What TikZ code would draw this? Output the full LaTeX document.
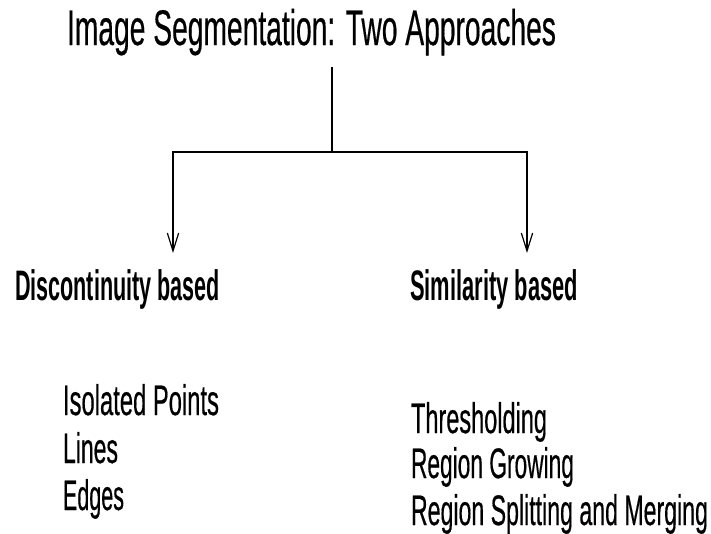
\documentclass[tikz,border=0pt]{standalone}
\usepackage{fontspec}
\setmainfont{Liberation Sans}[FakeBold=0.6]
\newfontfamily\hdfont{Liberation Sans Bold}
\usepackage{graphicx}
\usetikzlibrary{arrows.meta}
\newcommand{\fitw}[3]{{\fontsize{#2}{#2}\selectfont\resizebox{#1}{\height}{#3}}}
\tikzset{
  txt/.style={anchor=base west, inner sep=0pt, outer sep=0pt},
  conn/.style={line width=0.9pt, black},
  arr/.style={conn, -{Straight Barb[length=13.5pt,width=8.5pt,line width=0.9pt]}}
}
\begin{document}
\begin{tikzpicture}[x=0.75pt,y=-0.75pt]
\useasboundingbox (0,0) rectangle (711,533);
\fill[white] (0,0) rectangle (711,533);
\node[txt] (title) at (67,45) {\fitw{366.75pt}{37.5pt}{Image Segmentation: Two Approaches}};
\node[txt] (dis) at (15,300) {\fitw{153.75pt}{32pt}{\hdfont Discontinuity based}};
\node[txt] (sim) at (410,300) {\fitw{126pt}{32pt}{\hdfont Similarity based}};
\node[txt] (iso) at (63,415) {\fitw{117pt}{32pt}{Isolated Points}};
\node[txt] (lin) at (63,463) {\fitw{41.25pt}{32pt}{Lines}};
\node[txt] (edg) at (63,510) {\fitw{45.75pt}{32pt}{Edges}};
\node[txt] (thr) at (411,433) {\fitw{102pt}{32pt}{Thresholding}};
\node[txt] (reg) at (411,478) {\fitw{122.25pt}{32pt}{Region Growing}};
\node[txt] (rsm) at (411,525) {\fitw{222.75pt}{32pt}{Region Splitting and Merging}};
\coordinate (top) at (332,67);
\coordinate (j) at (332,152);
\coordinate (ldis) at (173,253);
\coordinate (lsim) at (527,253);
\draw[conn] (top) -- (j);
\draw[arr] (j) -| (ldis);
\draw[arr] (j) -| (lsim);
\end{tikzpicture}
\end{document}
